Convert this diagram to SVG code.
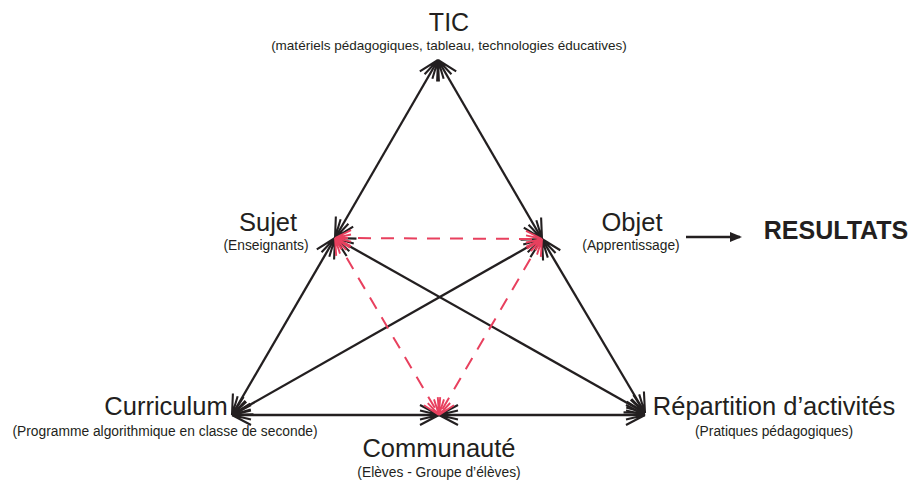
<svg xmlns="http://www.w3.org/2000/svg" width="913" height="481" viewBox="0 0 913 481">
<style>
.t{font-family:"Liberation Sans",Arial,sans-serif;fill:#231f20;text-anchor:middle}
.big{font-size:25.5px}
.sm{font-size:13.8px}
.b{stroke:#231f20;stroke-width:2.3;fill:none}
.r{stroke:#e8405e;stroke-width:2;fill:none;stroke-dasharray:13 10}
</style>
<defs>
<marker id="ab" viewBox="-24 -13 26 26" markerWidth="26" markerHeight="26" refX="0" refY="0" markerUnits="userSpaceOnUse" orient="auto-start-reverse">
<path d="M0,0 L-19,-10 M0,0 L-19,10 M0,0 L-19,-4.5 M0,0 L-19,4.5" stroke="#231f20" stroke-width="2.1" fill="none" stroke-linecap="butt"/>
</marker>
<marker id="ar" viewBox="-24 -13 26 26" markerWidth="26" markerHeight="26" refX="0" refY="0" markerUnits="userSpaceOnUse" orient="auto-start-reverse">
<path d="M0,0 L-16,-8 M0,0 L-16,8 M0,0 L-16,-3.6 M0,0 L-16,3.6" stroke="#e8405e" stroke-width="1.9" fill="none" stroke-linecap="butt"/>
</marker>
<marker id="af" viewBox="0 0 12 12" markerWidth="12" markerHeight="12" refX="10" refY="6" markerUnits="userSpaceOnUse" orient="auto">
<path d="M0,1 L12,6 L0,11 Z" fill="#231f20"/>
</marker>
</defs>
<g id="connectors">
<line class="b" x1="438" y1="60" x2="335" y2="238" marker-start="url(#ab)" marker-end="url(#ab)"/>
<line class="b" x1="438" y1="60" x2="542" y2="239" marker-start="url(#ab)" marker-end="url(#ab)"/>
<line class="b" x1="335" y1="238" x2="232" y2="415" marker-start="url(#ab)" marker-end="url(#ab)"/>
<line class="b" x1="542" y1="239" x2="645" y2="413" marker-start="url(#ab)" marker-end="url(#ab)"/>
<line class="b" x1="232" y1="415" x2="439" y2="415" marker-start="url(#ab)" marker-end="url(#ab)"/>
<line class="b" x1="439" y1="415" x2="645" y2="415" marker-start="url(#ab)" marker-end="url(#ab)"/>
<line class="b" x1="232" y1="415" x2="542" y2="239" marker-start="url(#ab)" marker-end="url(#ab)"/>
<line class="b" x1="335" y1="238" x2="645" y2="413" marker-start="url(#ab)" marker-end="url(#ab)"/>
<line class="r" x1="335" y1="238" x2="542" y2="239" marker-start="url(#ar)" marker-end="url(#ar)"/>
<line class="r" x1="335" y1="238" x2="439" y2="415" marker-start="url(#ar)" marker-end="url(#ar)"/>
<line class="r" x1="542" y1="239" x2="439" y2="415" marker-start="url(#ar)" marker-end="url(#ar)"/>
<line class="b" x1="686" y1="237" x2="740" y2="237" stroke-width="1.5" marker-end="url(#af)"/>
</g>
<g id="tic">
<text class="t" x="449" y="31" style="font-size:25px">TIC</text>
<text class="t" x="449" y="50" style="font-size:13.5px">(matériels pédagogiques, tableau, technologies éducatives)</text>
</g>
<g id="sujet">
<text class="t big" x="268" y="231">Sujet</text>
<text class="t sm" x="266" y="250">(Enseignants)</text>
</g>
<g id="objet">
<text class="t big" x="632" y="231">Objet</text>
<text class="t sm" x="631" y="250">(Apprentissage)</text>
</g>
<g id="resultats">
<text class="t" x="836" y="239" style="font-size:25px;font-weight:bold">RESULTATS</text>
</g>
<g id="curriculum">
<text class="t big" x="166" y="415">Curriculum</text>
<text class="t sm" x="165" y="436">(Programme algorithmique en classe de seconde)</text>
</g>
<g id="communaute">
<text class="t big" x="439" y="457">Communauté</text>
<text class="t sm" x="439" y="477">(Elèves - Groupe d’élèves)</text>
</g>
<g id="repartition">
<text class="t big" x="774" y="415">Répartition d’activités</text>
<text class="t sm" x="774" y="436">(Pratiques pédagogiques)</text>
</g>
</svg>
